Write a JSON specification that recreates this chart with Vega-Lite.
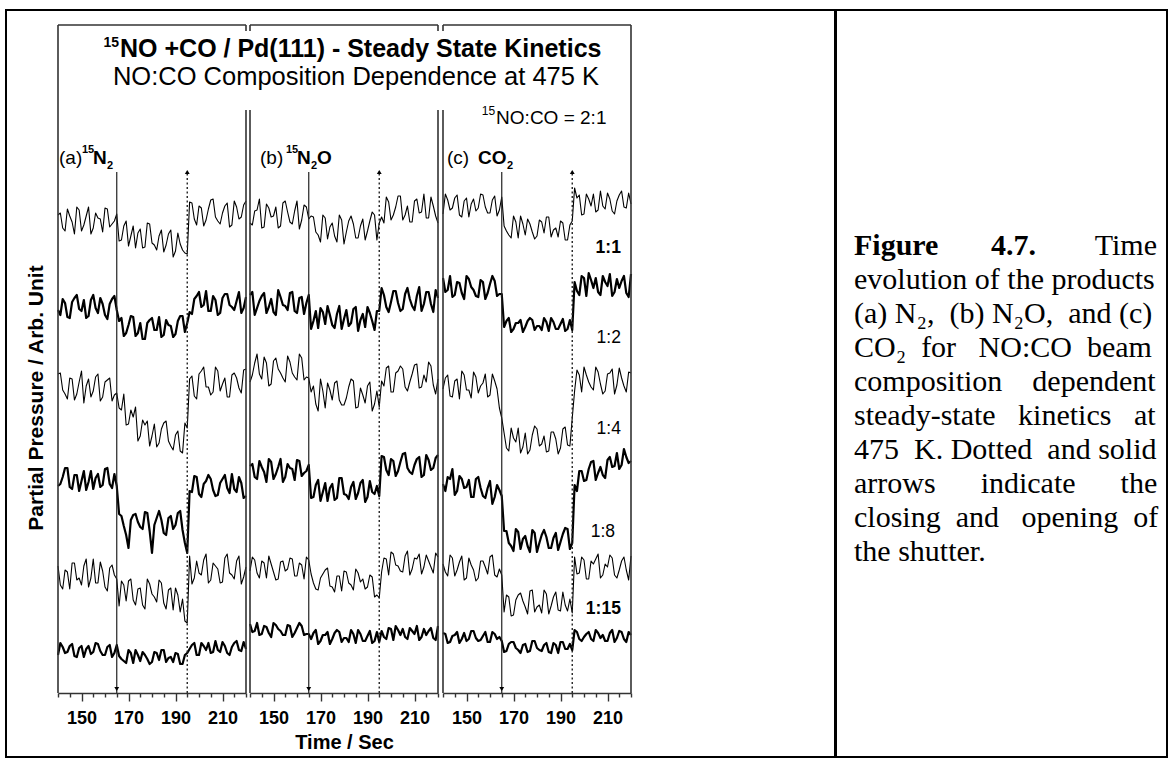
{
"$schema": "https://vega.github.io/schema/vega-lite/v6.json",
"background": "white",
"padding": {"left": 5, "top": 9, "right": 5, "bottom": 9},
"spacing": -2,
"config": {
  "view": {"stroke": "black", "strokeWidth": 2},
  "axis": {"grid": false, "labelFont": "Liberation Sans", "titleFont": "Liberation Sans", "minExtent": 0},
  "axisY": {"disable": true, "domain": false, "ticks": false, "labels": false, "grid": false, "titleOpacity": 0},
  "axisX": {"domainColor": "#333", "domainWidth": 1.6, "tickColor": "#333", "tickWidth": 1.4, "labelFontSize": 18, "labelFontWeight": "bold", "labelColor": "black", "labelPadding": 8, "labelOverlap": false, "labelBound": false, "labelFlush": false, "titleFontSize": 20, "titleFontWeight": "bold", "titleColor": "black", "titlePadding": 5},
  "rule": {"color": "#333", "strokeWidth": 1.6},
  "line": {"color": "black", "strokeJoin": "round"},
  "text": {"font": "Liberation Sans", "color": "black"},
  "point": {"filled": true, "color": "black", "opacity": 1}
},
"datasets": {
"one": [{}],
"shutter": [{"t":165,"event":"opening"},{"t":195,"event":"closing"}],
"a1":[{"t":140,"v":478},{"t":141,"v":480},{"t":142,"v":465},{"t":143,"v":462},{"t":144,"v":484},{"t":145,"v":477},{"t":146,"v":471},{"t":147,"v":459},{"t":148,"v":486},{"t":149,"v":483},{"t":150,"v":462},{"t":151,"v":468},{"t":152,"v":477},{"t":153,"v":486},{"t":154,"v":459},{"t":155,"v":465},{"t":156,"v":480},{"t":157,"v":475},{"t":158,"v":474},{"t":159,"v":461},{"t":160,"v":485},{"t":161,"v":484},{"t":162,"v":466},{"t":163,"v":469},{"t":164,"v":472},{"t":165,"v":479},{"t":166,"v":452},{"t":167,"v":453},{"t":168,"v":467},{"t":169,"v":472},{"t":170,"v":447},{"t":171,"v":457},{"t":172,"v":467},{"t":173,"v":445},{"t":174,"v":460},{"t":175,"v":464},{"t":176,"v":445},{"t":177,"v":446},{"t":178,"v":470},{"t":179,"v":469},{"t":180,"v":450},{"t":181,"v":448},{"t":182,"v":443},{"t":183,"v":457},{"t":184,"v":463},{"t":185,"v":441},{"t":186,"v":448},{"t":187,"v":459},{"t":188,"v":463},{"t":189,"v":436},{"t":190,"v":442},{"t":191,"v":460},{"t":192,"v":449},{"t":193,"v":443},{"t":194,"v":440},{"t":195,"v":439},{"t":196,"v":491},{"t":197,"v":490},{"t":198,"v":474},{"t":199,"v":468},{"t":200,"v":487},{"t":201,"v":485},{"t":202,"v":467},{"t":203,"v":473},{"t":204,"v":484},{"t":205,"v":493},{"t":206,"v":494},{"t":207,"v":476},{"t":208,"v":472},{"t":209,"v":469},{"t":210,"v":480},{"t":211,"v":487},{"t":212,"v":490},{"t":213,"v":466},{"t":214,"v":468},{"t":215,"v":492},{"t":216,"v":486},{"t":217,"v":474},{"t":218,"v":476},{"t":219,"v":488},{"t":220,"v":492}],
"a2":[{"t":140,"v":383},{"t":141,"v":378},{"t":142,"v":394},{"t":143,"v":390},{"t":144,"v":376},{"t":145,"v":375},{"t":146,"v":391},{"t":147,"v":395},{"t":148,"v":398},{"t":149,"v":384},{"t":150,"v":382},{"t":151,"v":393},{"t":152,"v":375},{"t":153,"v":377},{"t":154,"v":393},{"t":155,"v":398},{"t":156,"v":385},{"t":157,"v":380},{"t":158,"v":395},{"t":159,"v":389},{"t":160,"v":378},{"t":161,"v":374},{"t":162,"v":389},{"t":163,"v":394},{"t":164,"v":397},{"t":165,"v":383},{"t":166,"v":372},{"t":167,"v":375},{"t":168,"v":357},{"t":169,"v":360},{"t":170,"v":368},{"t":171,"v":377},{"t":172,"v":376},{"t":173,"v":357},{"t":174,"v":360},{"t":175,"v":370},{"t":176,"v":354},{"t":177,"v":354},{"t":178,"v":370},{"t":179,"v":373},{"t":180,"v":375},{"t":181,"v":363},{"t":182,"v":363},{"t":183,"v":376},{"t":184,"v":356},{"t":185,"v":358},{"t":186,"v":373},{"t":187,"v":368},{"t":188,"v":367},{"t":189,"v":356},{"t":190,"v":359},{"t":191,"v":372},{"t":192,"v":377},{"t":193,"v":377},{"t":194,"v":361},{"t":195,"v":370},{"t":196,"v":381},{"t":197,"v":379},{"t":198,"v":394},{"t":199,"v":397},{"t":200,"v":401},{"t":201,"v":386},{"t":202,"v":388},{"t":203,"v":402},{"t":204,"v":382},{"t":205,"v":382},{"t":206,"v":397},{"t":207,"v":393},{"t":208,"v":378},{"t":209,"v":380},{"t":210,"v":395},{"t":211,"v":399},{"t":212,"v":399},{"t":213,"v":388},{"t":214,"v":386},{"t":215,"v":383},{"t":216,"v":392},{"t":217,"v":401},{"t":218,"v":380},{"t":219,"v":385},{"t":220,"v":396}],
"a3":[{"t":140,"v":319},{"t":141,"v":320},{"t":142,"v":303},{"t":143,"v":299},{"t":144,"v":294},{"t":145,"v":315},{"t":146,"v":314},{"t":147,"v":293},{"t":148,"v":299},{"t":149,"v":311},{"t":150,"v":322},{"t":151,"v":290},{"t":152,"v":307},{"t":153,"v":314},{"t":154,"v":296},{"t":155,"v":302},{"t":156,"v":316},{"t":157,"v":319},{"t":158,"v":292},{"t":159,"v":296},{"t":160,"v":311},{"t":161,"v":313},{"t":162,"v":315},{"t":163,"v":292},{"t":164,"v":298},{"t":165,"v":300},{"t":166,"v":285},{"t":167,"v":283},{"t":168,"v":299},{"t":169,"v":268},{"t":170,"v":269},{"t":171,"v":283},{"t":172,"v":276},{"t":173,"v":286},{"t":174,"v":252},{"t":175,"v":257},{"t":176,"v":273},{"t":177,"v":268},{"t":178,"v":272},{"t":179,"v":247},{"t":180,"v":257},{"t":181,"v":269},{"t":182,"v":246},{"t":183,"v":250},{"t":184,"v":264},{"t":185,"v":270},{"t":186,"v":272},{"t":187,"v":252},{"t":188,"v":247},{"t":189,"v":243},{"t":190,"v":258},{"t":191,"v":262},{"t":192,"v":242},{"t":193,"v":240},{"t":194,"v":270},{"t":195,"v":265},{"t":196,"v":314},{"t":197,"v":317},{"t":198,"v":297},{"t":199,"v":294},{"t":200,"v":319},{"t":201,"v":322},{"t":202,"v":326},{"t":203,"v":306},{"t":204,"v":306},{"t":205,"v":298},{"t":206,"v":301},{"t":207,"v":326},{"t":208,"v":322},{"t":209,"v":302},{"t":210,"v":309},{"t":211,"v":315},{"t":212,"v":296},{"t":213,"v":296},{"t":214,"v":318},{"t":215,"v":320},{"t":216,"v":315},{"t":217,"v":305},{"t":218,"v":300},{"t":219,"v":323},{"t":220,"v":324}],
"a4":[{"t":140,"v":207},{"t":141,"v":209},{"t":142,"v":216},{"t":143,"v":225},{"t":144,"v":225},{"t":145,"v":206},{"t":146,"v":204},{"t":147,"v":218},{"t":148,"v":218},{"t":149,"v":202},{"t":150,"v":212},{"t":151,"v":222},{"t":152,"v":203},{"t":153,"v":211},{"t":154,"v":222},{"t":155,"v":204},{"t":156,"v":215},{"t":157,"v":219},{"t":158,"v":206},{"t":159,"v":208},{"t":160,"v":224},{"t":161,"v":225},{"t":162,"v":209},{"t":163,"v":205},{"t":164,"v":219},{"t":165,"v":207},{"t":166,"v":179},{"t":167,"v":177},{"t":168,"v":167},{"t":169,"v":158},{"t":170,"v":145},{"t":171,"v":173},{"t":172,"v":178},{"t":173,"v":179},{"t":174,"v":171},{"t":175,"v":166},{"t":176,"v":164},{"t":177,"v":181},{"t":178,"v":180},{"t":179,"v":162},{"t":180,"v":140},{"t":181,"v":168},{"t":182,"v":175},{"t":183,"v":182},{"t":184,"v":173},{"t":185,"v":160},{"t":186,"v":158},{"t":187,"v":175},{"t":188,"v":177},{"t":189,"v":164},{"t":190,"v":168},{"t":191,"v":180},{"t":192,"v":182},{"t":193,"v":163},{"t":194,"v":150},{"t":195,"v":140},{"t":196,"v":202},{"t":197,"v":201},{"t":198,"v":217},{"t":199,"v":216},{"t":200,"v":199},{"t":201,"v":196},{"t":202,"v":209},{"t":203,"v":212},{"t":204,"v":218},{"t":205,"v":214},{"t":206,"v":203},{"t":207,"v":197},{"t":208,"v":198},{"t":209,"v":210},{"t":210,"v":214},{"t":211,"v":218},{"t":212,"v":205},{"t":213,"v":200},{"t":214,"v":219},{"t":215,"v":204},{"t":216,"v":201},{"t":217,"v":216},{"t":218,"v":210},{"t":219,"v":195},{"t":220,"v":197}],
"a5":[{"t":140,"v":127},{"t":141,"v":108},{"t":142,"v":104},{"t":143,"v":123},{"t":144,"v":121},{"t":145,"v":104},{"t":146,"v":130},{"t":147,"v":130},{"t":148,"v":113},{"t":149,"v":115},{"t":150,"v":108},{"t":151,"v":127},{"t":152,"v":134},{"t":153,"v":106},{"t":154,"v":115},{"t":155,"v":134},{"t":156,"v":110},{"t":157,"v":110},{"t":158,"v":131},{"t":159,"v":122},{"t":160,"v":106},{"t":161,"v":102},{"t":162,"v":125},{"t":163,"v":128},{"t":164,"v":118},{"t":165,"v":114},{"t":166,"v":87},{"t":167,"v":112},{"t":168,"v":108},{"t":169,"v":92},{"t":170,"v":112},{"t":171,"v":114},{"t":172,"v":93},{"t":173,"v":88},{"t":174,"v":104},{"t":175,"v":105},{"t":176,"v":88},{"t":177,"v":84},{"t":178,"v":114},{"t":179,"v":109},{"t":180,"v":99},{"t":181,"v":96},{"t":182,"v":91},{"t":183,"v":113},{"t":184,"v":110},{"t":185,"v":90},{"t":186,"v":84},{"t":187,"v":103},{"t":188,"v":105},{"t":189,"v":83},{"t":190,"v":105},{"t":191,"v":98},{"t":192,"v":81},{"t":193,"v":94},{"t":194,"v":72},{"t":195,"v":70},{"t":196,"v":137},{"t":197,"v":109},{"t":198,"v":115},{"t":199,"v":132},{"t":200,"v":120},{"t":201,"v":118},{"t":202,"v":133},{"t":203,"v":139},{"t":204,"v":110},{"t":205,"v":113},{"t":206,"v":130},{"t":207,"v":127},{"t":208,"v":124},{"t":209,"v":110},{"t":210,"v":111},{"t":211,"v":135},{"t":212,"v":139},{"t":213,"v":120},{"t":214,"v":118},{"t":215,"v":114},{"t":216,"v":132},{"t":217,"v":137},{"t":218,"v":109},{"t":219,"v":116},{"t":220,"v":126}],
"a6":[{"t":140,"v":38},{"t":141,"v":50},{"t":142,"v":46},{"t":143,"v":40},{"t":144,"v":41},{"t":145,"v":47},{"t":146,"v":49},{"t":147,"v":37},{"t":148,"v":36},{"t":149,"v":45},{"t":150,"v":47},{"t":151,"v":36},{"t":152,"v":44},{"t":153,"v":47},{"t":154,"v":39},{"t":155,"v":41},{"t":156,"v":50},{"t":157,"v":49},{"t":158,"v":42},{"t":159,"v":38},{"t":160,"v":38},{"t":161,"v":46},{"t":162,"v":48},{"t":163,"v":36},{"t":164,"v":40},{"t":165,"v":48},{"t":166,"v":37},{"t":167,"v":34},{"t":168,"v":32},{"t":169,"v":30},{"t":170,"v":43},{"t":171,"v":40},{"t":172,"v":30},{"t":173,"v":43},{"t":174,"v":38},{"t":175,"v":32},{"t":176,"v":41},{"t":177,"v":38},{"t":178,"v":34},{"t":179,"v":29},{"t":180,"v":31},{"t":181,"v":41},{"t":182,"v":40},{"t":183,"v":33},{"t":184,"v":43},{"t":185,"v":43},{"t":186,"v":31},{"t":187,"v":35},{"t":188,"v":36},{"t":189,"v":31},{"t":190,"v":40},{"t":191,"v":39},{"t":192,"v":29},{"t":193,"v":29},{"t":194,"v":38},{"t":195,"v":40},{"t":196,"v":44},{"t":197,"v":48},{"t":198,"v":50},{"t":199,"v":38},{"t":200,"v":38},{"t":201,"v":50},{"t":202,"v":47},{"t":203,"v":43},{"t":204,"v":50},{"t":205,"v":40},{"t":206,"v":41},{"t":207,"v":52},{"t":208,"v":43},{"t":209,"v":41},{"t":210,"v":51},{"t":211,"v":47},{"t":212,"v":40},{"t":213,"v":38},{"t":214,"v":46},{"t":215,"v":50},{"t":216,"v":52},{"t":217,"v":43},{"t":218,"v":42},{"t":219,"v":51},{"t":220,"v":44}],
"b1":[{"t":140,"v":470},{"t":141,"v":468},{"t":142,"v":482},{"t":143,"v":483},{"t":144,"v":494},{"t":145,"v":465},{"t":146,"v":466},{"t":147,"v":489},{"t":148,"v":485},{"t":149,"v":476},{"t":150,"v":477},{"t":151,"v":486},{"t":152,"v":465},{"t":153,"v":467},{"t":154,"v":490},{"t":155,"v":492},{"t":156,"v":481},{"t":157,"v":471},{"t":158,"v":469},{"t":159,"v":482},{"t":160,"v":492},{"t":161,"v":464},{"t":162,"v":473},{"t":163,"v":488},{"t":164,"v":486},{"t":165,"v":474},{"t":166,"v":477},{"t":167,"v":476},{"t":168,"v":461},{"t":169,"v":458},{"t":170,"v":451},{"t":171,"v":478},{"t":172,"v":475},{"t":173,"v":454},{"t":174,"v":466},{"t":175,"v":470},{"t":176,"v":457},{"t":177,"v":451},{"t":178,"v":478},{"t":179,"v":473},{"t":180,"v":449},{"t":181,"v":461},{"t":182,"v":472},{"t":183,"v":477},{"t":184,"v":469},{"t":185,"v":455},{"t":186,"v":455},{"t":187,"v":467},{"t":188,"v":474},{"t":189,"v":453},{"t":190,"v":462},{"t":191,"v":472},{"t":192,"v":481},{"t":193,"v":478},{"t":194,"v":453},{"t":195,"v":470},{"t":196,"v":476},{"t":197,"v":470},{"t":198,"v":496},{"t":199,"v":491},{"t":200,"v":473},{"t":201,"v":478},{"t":202,"v":486},{"t":203,"v":497},{"t":204,"v":497},{"t":205,"v":473},{"t":206,"v":478},{"t":207,"v":487},{"t":208,"v":471},{"t":209,"v":471},{"t":210,"v":492},{"t":211,"v":494},{"t":212,"v":480},{"t":213,"v":481},{"t":214,"v":499},{"t":215,"v":475},{"t":216,"v":475},{"t":217,"v":496},{"t":218,"v":487},{"t":219,"v":477},{"t":220,"v":470}],
"b2":[{"t":140,"v":398},{"t":141,"v":401},{"t":142,"v":378},{"t":143,"v":385},{"t":144,"v":392},{"t":145,"v":397},{"t":146,"v":400},{"t":147,"v":380},{"t":148,"v":386},{"t":149,"v":394},{"t":150,"v":381},{"t":151,"v":378},{"t":152,"v":403},{"t":153,"v":396},{"t":154,"v":388},{"t":155,"v":387},{"t":156,"v":383},{"t":157,"v":400},{"t":158,"v":401},{"t":159,"v":382},{"t":160,"v":380},{"t":161,"v":395},{"t":162,"v":396},{"t":163,"v":379},{"t":164,"v":390},{"t":165,"v":398},{"t":166,"v":364},{"t":167,"v":372},{"t":168,"v":382},{"t":169,"v":365},{"t":170,"v":385},{"t":171,"v":381},{"t":172,"v":369},{"t":173,"v":387},{"t":174,"v":378},{"t":175,"v":368},{"t":176,"v":365},{"t":177,"v":379},{"t":178,"v":387},{"t":179,"v":364},{"t":180,"v":374},{"t":181,"v":383},{"t":182,"v":367},{"t":183,"v":370},{"t":184,"v":384},{"t":185,"v":386},{"t":186,"v":362},{"t":187,"v":373},{"t":188,"v":379},{"t":189,"v":366},{"t":190,"v":386},{"t":191,"v":380},{"t":192,"v":372},{"t":193,"v":363},{"t":194,"v":382},{"t":195,"v":382},{"t":196,"v":405},{"t":197,"v":398},{"t":198,"v":386},{"t":199,"v":381},{"t":200,"v":391},{"t":201,"v":402},{"t":202,"v":402},{"t":203,"v":390},{"t":204,"v":382},{"t":205,"v":384},{"t":206,"v":399},{"t":207,"v":405},{"t":208,"v":394},{"t":209,"v":387},{"t":210,"v":383},{"t":211,"v":397},{"t":212,"v":406},{"t":213,"v":382},{"t":214,"v":389},{"t":215,"v":401},{"t":216,"v":401},{"t":217,"v":389},{"t":218,"v":381},{"t":219,"v":403},{"t":220,"v":395}],
"b3":[{"t":140,"v":311},{"t":141,"v":318},{"t":142,"v":330},{"t":143,"v":339},{"t":144,"v":319},{"t":145,"v":314},{"t":146,"v":336},{"t":147,"v":330},{"t":148,"v":307},{"t":149,"v":309},{"t":150,"v":332},{"t":151,"v":335},{"t":152,"v":324},{"t":153,"v":320},{"t":154,"v":315},{"t":155,"v":311},{"t":156,"v":337},{"t":157,"v":331},{"t":158,"v":320},{"t":159,"v":316},{"t":160,"v":313},{"t":161,"v":339},{"t":162,"v":335},{"t":163,"v":313},{"t":164,"v":316},{"t":165,"v":315},{"t":166,"v":301},{"t":167,"v":307},{"t":168,"v":289},{"t":169,"v":282},{"t":170,"v":314},{"t":171,"v":302},{"t":172,"v":285},{"t":173,"v":310},{"t":174,"v":303},{"t":175,"v":293},{"t":176,"v":310},{"t":177,"v":312},{"t":178,"v":293},{"t":179,"v":288},{"t":180,"v":288},{"t":181,"v":295},{"t":182,"v":306},{"t":183,"v":314},{"t":184,"v":312},{"t":185,"v":285},{"t":186,"v":286},{"t":187,"v":305},{"t":188,"v":298},{"t":189,"v":290},{"t":190,"v":307},{"t":191,"v":311},{"t":192,"v":282},{"t":193,"v":289},{"t":194,"v":302},{"t":195,"v":286},{"t":196,"v":312},{"t":197,"v":307},{"t":198,"v":325},{"t":199,"v":327},{"t":200,"v":301},{"t":201,"v":301},{"t":202,"v":320},{"t":203,"v":322},{"t":204,"v":327},{"t":205,"v":324},{"t":206,"v":306},{"t":207,"v":302},{"t":208,"v":311},{"t":209,"v":319},{"t":210,"v":328},{"t":211,"v":329},{"t":212,"v":305},{"t":213,"v":306},{"t":214,"v":318},{"t":215,"v":311},{"t":216,"v":331},{"t":217,"v":327},{"t":218,"v":308},{"t":219,"v":299},{"t":220,"v":314}],
"b4":[{"t":140,"v":227},{"t":141,"v":229},{"t":142,"v":216},{"t":143,"v":214},{"t":144,"v":232},{"t":145,"v":226},{"t":146,"v":221},{"t":147,"v":211},{"t":148,"v":234},{"t":149,"v":231},{"t":150,"v":214},{"t":151,"v":219},{"t":152,"v":226},{"t":153,"v":234},{"t":154,"v":211},{"t":155,"v":216},{"t":156,"v":229},{"t":157,"v":225},{"t":158,"v":224},{"t":159,"v":213},{"t":160,"v":233},{"t":161,"v":232},{"t":162,"v":217},{"t":163,"v":220},{"t":164,"v":222},{"t":165,"v":228},{"t":166,"v":195},{"t":167,"v":196},{"t":168,"v":208},{"t":169,"v":213},{"t":170,"v":192},{"t":171,"v":201},{"t":172,"v":210},{"t":173,"v":192},{"t":174,"v":205},{"t":175,"v":209},{"t":176,"v":193},{"t":177,"v":195},{"t":178,"v":215},{"t":179,"v":215},{"t":180,"v":199},{"t":181,"v":198},{"t":182,"v":194},{"t":183,"v":206},{"t":184,"v":211},{"t":185,"v":194},{"t":186,"v":200},{"t":187,"v":210},{"t":188,"v":213},{"t":189,"v":191},{"t":190,"v":196},{"t":191,"v":212},{"t":192,"v":201},{"t":193,"v":199},{"t":194,"v":207},{"t":195,"v":197},{"t":196,"v":237},{"t":197,"v":236},{"t":198,"v":223},{"t":199,"v":218},{"t":200,"v":234},{"t":201,"v":232},{"t":202,"v":217},{"t":203,"v":222},{"t":204,"v":231},{"t":205,"v":239},{"t":206,"v":240},{"t":207,"v":225},{"t":208,"v":221},{"t":209,"v":219},{"t":210,"v":228},{"t":211,"v":234},{"t":212,"v":236},{"t":213,"v":216},{"t":214,"v":218},{"t":215,"v":238},{"t":216,"v":233},{"t":217,"v":223},{"t":218,"v":225},{"t":219,"v":235},{"t":220,"v":238}],
"b5":[{"t":140,"v":122},{"t":141,"v":136},{"t":142,"v":133},{"t":143,"v":120},{"t":144,"v":115},{"t":145,"v":132},{"t":146,"v":130},{"t":147,"v":115},{"t":148,"v":137},{"t":149,"v":129},{"t":150,"v":121},{"t":151,"v":113},{"t":152,"v":114},{"t":153,"v":131},{"t":154,"v":132},{"t":155,"v":122},{"t":156,"v":124},{"t":157,"v":135},{"t":158,"v":134},{"t":159,"v":117},{"t":160,"v":117},{"t":161,"v":130},{"t":162,"v":128},{"t":163,"v":114},{"t":164,"v":136},{"t":165,"v":133},{"t":166,"v":119},{"t":167,"v":110},{"t":168,"v":104},{"t":169,"v":103},{"t":170,"v":115},{"t":171,"v":119},{"t":172,"v":123},{"t":173,"v":125},{"t":174,"v":107},{"t":175,"v":106},{"t":176,"v":101},{"t":177,"v":117},{"t":178,"v":117},{"t":179,"v":102},{"t":180,"v":122},{"t":181,"v":121},{"t":182,"v":110},{"t":183,"v":108},{"t":184,"v":103},{"t":185,"v":124},{"t":186,"v":120},{"t":187,"v":111},{"t":188,"v":114},{"t":189,"v":104},{"t":190,"v":106},{"t":191,"v":118},{"t":192,"v":116},{"t":193,"v":96},{"t":194,"v":98},{"t":195,"v":95},{"t":196,"v":121},{"t":197,"v":135},{"t":198,"v":134},{"t":199,"v":118},{"t":200,"v":141},{"t":201,"v":139},{"t":202,"v":128},{"t":203,"v":127},{"t":204,"v":122},{"t":205,"v":121},{"t":206,"v":137},{"t":207,"v":142},{"t":208,"v":118},{"t":209,"v":124},{"t":210,"v":135},{"t":211,"v":134},{"t":212,"v":139},{"t":213,"v":119},{"t":214,"v":126},{"t":215,"v":138},{"t":216,"v":132},{"t":217,"v":126},{"t":218,"v":120},{"t":219,"v":140},{"t":220,"v":136}],
"b6":[{"t":140,"v":69},{"t":141,"v":61},{"t":142,"v":62},{"t":143,"v":70},{"t":144,"v":58},{"t":145,"v":59},{"t":146,"v":67},{"t":147,"v":66},{"t":148,"v":60},{"t":149,"v":56},{"t":150,"v":70},{"t":151,"v":68},{"t":152,"v":64},{"t":153,"v":62},{"t":154,"v":58},{"t":155,"v":58},{"t":156,"v":68},{"t":157,"v":67},{"t":158,"v":56},{"t":159,"v":60},{"t":160,"v":65},{"t":161,"v":70},{"t":162,"v":67},{"t":163,"v":58},{"t":164,"v":59},{"t":165,"v":59},{"t":166,"v":54},{"t":167,"v":60},{"t":168,"v":63},{"t":169,"v":49},{"t":170,"v":52},{"t":171,"v":58},{"t":172,"v":58},{"t":173,"v":61},{"t":174,"v":49},{"t":175,"v":54},{"t":176,"v":60},{"t":177,"v":63},{"t":178,"v":61},{"t":179,"v":51},{"t":180,"v":55},{"t":181,"v":55},{"t":182,"v":51},{"t":183,"v":63},{"t":184,"v":59},{"t":185,"v":50},{"t":186,"v":63},{"t":187,"v":59},{"t":188,"v":52},{"t":189,"v":52},{"t":190,"v":57},{"t":191,"v":62},{"t":192,"v":50},{"t":193,"v":52},{"t":194,"v":61},{"t":195,"v":51},{"t":196,"v":62},{"t":197,"v":56},{"t":198,"v":54},{"t":199,"v":65},{"t":200,"v":64},{"t":201,"v":53},{"t":202,"v":67},{"t":203,"v":63},{"t":204,"v":58},{"t":205,"v":64},{"t":206,"v":56},{"t":207,"v":54},{"t":208,"v":65},{"t":209,"v":62},{"t":210,"v":59},{"t":211,"v":67},{"t":212,"v":53},{"t":213,"v":56},{"t":214,"v":64},{"t":215,"v":58},{"t":216,"v":62},{"t":217,"v":65},{"t":218,"v":55},{"t":219,"v":53},{"t":220,"v":67}],
"c1":[{"t":140,"v":479},{"t":141,"v":499},{"t":142,"v":493},{"t":143,"v":483},{"t":144,"v":485},{"t":145,"v":495},{"t":146,"v":498},{"t":147,"v":478},{"t":148,"v":476},{"t":149,"v":492},{"t":150,"v":495},{"t":151,"v":476},{"t":152,"v":489},{"t":153,"v":494},{"t":154,"v":482},{"t":155,"v":485},{"t":156,"v":499},{"t":157,"v":498},{"t":158,"v":486},{"t":159,"v":480},{"t":160,"v":480},{"t":161,"v":493},{"t":162,"v":497},{"t":163,"v":477},{"t":164,"v":483},{"t":165,"v":496},{"t":166,"v":467},{"t":167,"v":462},{"t":168,"v":458},{"t":169,"v":455},{"t":170,"v":477},{"t":171,"v":471},{"t":172,"v":455},{"t":173,"v":477},{"t":174,"v":469},{"t":175,"v":458},{"t":176,"v":474},{"t":177,"v":469},{"t":178,"v":461},{"t":179,"v":454},{"t":180,"v":457},{"t":181,"v":473},{"t":182,"v":471},{"t":183,"v":460},{"t":184,"v":476},{"t":185,"v":476},{"t":186,"v":456},{"t":187,"v":463},{"t":188,"v":465},{"t":189,"v":456},{"t":190,"v":472},{"t":191,"v":470},{"t":192,"v":453},{"t":193,"v":453},{"t":194,"v":468},{"t":195,"v":472},{"t":196,"v":505},{"t":197,"v":495},{"t":198,"v":498},{"t":199,"v":478},{"t":200,"v":479},{"t":201,"v":499},{"t":202,"v":494},{"t":203,"v":487},{"t":204,"v":499},{"t":205,"v":481},{"t":206,"v":483},{"t":207,"v":502},{"t":208,"v":487},{"t":209,"v":484},{"t":210,"v":500},{"t":211,"v":494},{"t":212,"v":482},{"t":213,"v":479},{"t":214,"v":492},{"t":215,"v":498},{"t":216,"v":502},{"t":217,"v":486},{"t":218,"v":485},{"t":219,"v":500},{"t":220,"v":489}],
"c2":[{"t":140,"v":415},{"t":141,"v":401},{"t":142,"v":403},{"t":143,"v":417},{"t":144,"v":396},{"t":145,"v":398},{"t":146,"v":411},{"t":147,"v":410},{"t":148,"v":400},{"t":149,"v":394},{"t":150,"v":417},{"t":151,"v":414},{"t":152,"v":406},{"t":153,"v":403},{"t":154,"v":397},{"t":155,"v":396},{"t":156,"v":413},{"t":157,"v":411},{"t":158,"v":394},{"t":159,"v":400},{"t":160,"v":409},{"t":161,"v":417},{"t":162,"v":412},{"t":163,"v":397},{"t":164,"v":399},{"t":165,"v":399},{"t":166,"v":366},{"t":167,"v":372},{"t":168,"v":375},{"t":169,"v":361},{"t":170,"v":364},{"t":171,"v":370},{"t":172,"v":370},{"t":173,"v":373},{"t":174,"v":361},{"t":175,"v":366},{"t":176,"v":372},{"t":177,"v":375},{"t":178,"v":373},{"t":179,"v":363},{"t":180,"v":367},{"t":181,"v":367},{"t":182,"v":363},{"t":183,"v":375},{"t":184,"v":371},{"t":185,"v":362},{"t":186,"v":375},{"t":187,"v":371},{"t":188,"v":364},{"t":189,"v":364},{"t":190,"v":369},{"t":191,"v":374},{"t":192,"v":362},{"t":193,"v":364},{"t":194,"v":373},{"t":195,"v":363},{"t":196,"v":411},{"t":197,"v":402},{"t":198,"v":398},{"t":199,"v":417},{"t":200,"v":415},{"t":201,"v":397},{"t":202,"v":420},{"t":203,"v":413},{"t":204,"v":405},{"t":205,"v":415},{"t":206,"v":401},{"t":207,"v":398},{"t":208,"v":417},{"t":209,"v":411},{"t":210,"v":407},{"t":211,"v":419},{"t":212,"v":397},{"t":213,"v":401},{"t":214,"v":414},{"t":215,"v":405},{"t":216,"v":412},{"t":217,"v":417},{"t":218,"v":400},{"t":219,"v":396},{"t":220,"v":419}],
"c3":[{"t":140,"v":304},{"t":141,"v":315},{"t":142,"v":318},{"t":143,"v":297},{"t":144,"v":296},{"t":145,"v":312},{"t":146,"v":314},{"t":147,"v":294},{"t":148,"v":322},{"t":149,"v":318},{"t":150,"v":303},{"t":151,"v":303},{"t":152,"v":295},{"t":153,"v":321},{"t":154,"v":316},{"t":155,"v":300},{"t":156,"v":307},{"t":157,"v":310},{"t":158,"v":319},{"t":159,"v":296},{"t":160,"v":298},{"t":161,"v":319},{"t":162,"v":312},{"t":163,"v":304},{"t":164,"v":285},{"t":165,"v":275},{"t":166,"v":260},{"t":167,"v":245},{"t":168,"v":242},{"t":169,"v":265},{"t":170,"v":255},{"t":171,"v":251},{"t":172,"v":265},{"t":173,"v":240},{"t":174,"v":246},{"t":175,"v":260},{"t":176,"v":239},{"t":177,"v":243},{"t":178,"v":258},{"t":179,"v":267},{"t":180,"v":264},{"t":181,"v":247},{"t":182,"v":249},{"t":183,"v":257},{"t":184,"v":241},{"t":185,"v":242},{"t":186,"v":261},{"t":187,"v":261},{"t":188,"v":254},{"t":189,"v":239},{"t":190,"v":245},{"t":191,"v":264},{"t":192,"v":266},{"t":193,"v":248},{"t":194,"v":247},{"t":195,"v":275},{"t":196,"v":302},{"t":197,"v":323},{"t":198,"v":318},{"t":199,"v":301},{"t":200,"v":326},{"t":201,"v":318},{"t":202,"v":311},{"t":203,"v":306},{"t":204,"v":303},{"t":205,"v":326},{"t":206,"v":321},{"t":207,"v":309},{"t":208,"v":299},{"t":209,"v":302},{"t":210,"v":319},{"t":211,"v":320},{"t":212,"v":324},{"t":213,"v":299},{"t":214,"v":308},{"t":215,"v":325},{"t":216,"v":315},{"t":217,"v":307},{"t":218,"v":301},{"t":219,"v":321},{"t":220,"v":320}],
"c4":[{"t":140,"v":209},{"t":141,"v":202},{"t":142,"v":216},{"t":143,"v":214},{"t":144,"v":224},{"t":145,"v":198},{"t":146,"v":202},{"t":147,"v":217},{"t":148,"v":214},{"t":149,"v":205},{"t":150,"v":206},{"t":151,"v":213},{"t":152,"v":196},{"t":153,"v":196},{"t":154,"v":214},{"t":155,"v":216},{"t":156,"v":205},{"t":157,"v":197},{"t":158,"v":195},{"t":159,"v":205},{"t":160,"v":212},{"t":161,"v":189},{"t":162,"v":196},{"t":163,"v":208},{"t":164,"v":203},{"t":165,"v":197},{"t":166,"v":162},{"t":167,"v":162},{"t":168,"v":150},{"t":169,"v":147},{"t":170,"v":142},{"t":171,"v":164},{"t":172,"v":161},{"t":173,"v":144},{"t":174,"v":154},{"t":175,"v":157},{"t":176,"v":147},{"t":177,"v":141},{"t":178,"v":163},{"t":179,"v":160},{"t":180,"v":141},{"t":181,"v":150},{"t":182,"v":158},{"t":183,"v":163},{"t":184,"v":156},{"t":185,"v":145},{"t":186,"v":145},{"t":187,"v":155},{"t":188,"v":160},{"t":189,"v":143},{"t":190,"v":151},{"t":191,"v":159},{"t":192,"v":165},{"t":193,"v":164},{"t":194,"v":144},{"t":195,"v":150},{"t":196,"v":208},{"t":197,"v":202},{"t":198,"v":222},{"t":199,"v":222},{"t":200,"v":212},{"t":201,"v":213},{"t":202,"v":224},{"t":203,"v":231},{"t":204,"v":232},{"t":205,"v":213},{"t":206,"v":220},{"t":207,"v":226},{"t":208,"v":218},{"t":209,"v":215},{"t":210,"v":233},{"t":211,"v":236},{"t":212,"v":226},{"t":213,"v":227},{"t":214,"v":240},{"t":215,"v":224},{"t":216,"v":228},{"t":217,"v":244},{"t":218,"v":236},{"t":219,"v":230},{"t":220,"v":232}],
"c5":[{"t":140,"v":129},{"t":141,"v":121},{"t":142,"v":117},{"t":143,"v":138},{"t":144,"v":135},{"t":145,"v":117},{"t":146,"v":123},{"t":147,"v":131},{"t":148,"v":137},{"t":149,"v":113},{"t":150,"v":115},{"t":151,"v":135},{"t":152,"v":128},{"t":153,"v":123},{"t":154,"v":112},{"t":155,"v":115},{"t":156,"v":132},{"t":157,"v":132},{"t":158,"v":126},{"t":159,"v":119},{"t":160,"v":136},{"t":161,"v":138},{"t":162,"v":118},{"t":163,"v":116},{"t":164,"v":124},{"t":165,"v":118},{"t":166,"v":81},{"t":167,"v":98},{"t":168,"v":96},{"t":169,"v":77},{"t":170,"v":78},{"t":171,"v":93},{"t":172,"v":98},{"t":173,"v":100},{"t":174,"v":92},{"t":175,"v":86},{"t":176,"v":79},{"t":177,"v":102},{"t":178,"v":103},{"t":179,"v":81},{"t":180,"v":86},{"t":181,"v":88},{"t":182,"v":80},{"t":183,"v":103},{"t":184,"v":99},{"t":185,"v":79},{"t":186,"v":87},{"t":187,"v":96},{"t":188,"v":101},{"t":189,"v":83},{"t":190,"v":82},{"t":191,"v":101},{"t":192,"v":88},{"t":193,"v":82},{"t":194,"v":94},{"t":195,"v":80},{"t":196,"v":136},{"t":197,"v":119},{"t":198,"v":120},{"t":199,"v":136},{"t":200,"v":133},{"t":201,"v":114},{"t":202,"v":114},{"t":203,"v":132},{"t":204,"v":129},{"t":205,"v":134},{"t":206,"v":139},{"t":207,"v":115},{"t":208,"v":118},{"t":209,"v":129},{"t":210,"v":126},{"t":211,"v":138},{"t":212,"v":135},{"t":213,"v":118},{"t":214,"v":115},{"t":215,"v":123},{"t":216,"v":132},{"t":217,"v":136},{"t":218,"v":123},{"t":219,"v":113},{"t":220,"v":137}],
"c6":[{"t":140,"v":60},{"t":141,"v":59},{"t":142,"v":50},{"t":143,"v":51},{"t":144,"v":57},{"t":145,"v":58},{"t":146,"v":61},{"t":147,"v":50},{"t":148,"v":54},{"t":149,"v":60},{"t":150,"v":52},{"t":151,"v":54},{"t":152,"v":62},{"t":153,"v":62},{"t":154,"v":55},{"t":155,"v":52},{"t":156,"v":53},{"t":157,"v":57},{"t":158,"v":61},{"t":159,"v":51},{"t":160,"v":51},{"t":161,"v":61},{"t":162,"v":59},{"t":163,"v":54},{"t":164,"v":56},{"t":165,"v":52},{"t":166,"v":41},{"t":167,"v":42},{"t":168,"v":49},{"t":169,"v":51},{"t":170,"v":51},{"t":171,"v":45},{"t":172,"v":43},{"t":173,"v":40},{"t":174,"v":48},{"t":175,"v":49},{"t":176,"v":41},{"t":177,"v":42},{"t":178,"v":52},{"t":179,"v":52},{"t":180,"v":45},{"t":181,"v":43},{"t":182,"v":42},{"t":183,"v":48},{"t":184,"v":50},{"t":185,"v":41},{"t":186,"v":40},{"t":187,"v":50},{"t":188,"v":48},{"t":189,"v":40},{"t":190,"v":51},{"t":191,"v":51},{"t":192,"v":44},{"t":193,"v":44},{"t":194,"v":49},{"t":195,"v":43},{"t":196,"v":63},{"t":197,"v":61},{"t":198,"v":54},{"t":199,"v":52},{"t":200,"v":56},{"t":201,"v":59},{"t":202,"v":61},{"t":203,"v":54},{"t":204,"v":52},{"t":205,"v":63},{"t":206,"v":60},{"t":207,"v":55},{"t":208,"v":58},{"t":209,"v":52},{"t":210,"v":52},{"t":211,"v":60},{"t":212,"v":63},{"t":213,"v":51},{"t":214,"v":55},{"t":215,"v":62},{"t":216,"v":61},{"t":217,"v":54},{"t":218,"v":51},{"t":219,"v":61},{"t":220,"v":58}]
},
"hconcat": [
{
  "width": 829, "height": 747,
  "resolve": {"scale": {"x": "independent"}, "axis": {"x": "independent"}},
  "layer": [
  {
    "layer": [
      {"data": {"name": "a1"}, "mark": {"type": "line", "strokeWidth": 1.1}, "encoding": {
        "x": {"field": "t", "type": "quantitative", "scale": {"domain": [140, 220], "range": [52, 240], "nice": false, "zero": false},
              "axis": {"orient": "bottom", "offset": -64, "values": [140,145,150,155,160,165,170,175,180,185,190,195,200,205,210,215,220], "labelExpr": "datum.value % 20 == 10 ? datum.label : ''", "tickSize": {"condition": {"test": "datum.value % 20 == 10", "value": 8}, "value": 4}, "title": null}},
        "y": {"field": "v", "type": "quantitative", "scale": {"domain": [0, 668], "range": [683, 15], "nice": false, "zero": false}, "axis": null}}},
      {"data": {"name": "a2"}, "mark": {"type": "line", "strokeWidth": 2.2}, "encoding": {"x": {"field": "t", "type": "quantitative"}, "y": {"field": "v", "type": "quantitative", "axis": null}}},
      {"data": {"name": "a3"}, "mark": {"type": "line", "strokeWidth": 1.1}, "encoding": {"x": {"field": "t", "type": "quantitative"}, "y": {"field": "v", "type": "quantitative", "axis": null}}},
      {"data": {"name": "a4"}, "mark": {"type": "line", "strokeWidth": 2.2}, "encoding": {"x": {"field": "t", "type": "quantitative"}, "y": {"field": "v", "type": "quantitative", "axis": null}}},
      {"data": {"name": "a5"}, "mark": {"type": "line", "strokeWidth": 1.1}, "encoding": {"x": {"field": "t", "type": "quantitative"}, "y": {"field": "v", "type": "quantitative", "axis": null}}},
      {"data": {"name": "a6"}, "mark": {"type": "line", "strokeWidth": 2.2}, "encoding": {"x": {"field": "t", "type": "quantitative"}, "y": {"field": "v", "type": "quantitative", "axis": null}}},
      {"data": {"name": "one"}, "mark": "rule", "encoding": {"x": {"datum": 140}, "y": {"datum": 0}, "y2": {"datum": 668}}},
      {"data": {"name": "one"}, "mark": "rule", "encoding": {"x": {"datum": 220}, "y": {"datum": 0}, "y2": {"datum": 583}}},
      {"data": {"name": "one"}, "mark": "rule", "encoding": {"x": {"datum": 220}, "y": {"datum": 662}, "y2": {"datum": 668}}},
      {"data": {"name": "one"}, "mark": "rule", "encoding": {"x": {"datum": 140}, "x2": {"datum": 220}, "y": {"datum": 668}}},
      {"data": {"name": "shutter"}, "transform": [{"filter": "datum.event == 'opening'"}], "mark": {"type": "rule", "color": "#222", "strokeWidth": 1.2}, "encoding": {"x": {"field": "t", "type": "quantitative"}, "y": {"datum": 0}, "y2": {"datum": 521}}},
      {"data": {"name": "shutter"}, "transform": [{"filter": "datum.event == 'closing'"}], "mark": {"type": "rule", "color": "#222", "strokeWidth": 1.4, "strokeDash": [2, 2.5]}, "encoding": {"x": {"field": "t", "type": "quantitative"}, "y": {"datum": 0}, "y2": {"datum": 521}}},
      {"data": {"name": "one"}, "mark": {"type": "point", "shape": "triangle-down", "size": 24}, "encoding": {"x": {"datum": 165}, "y": {"datum": 4}}},
      {"data": {"name": "one"}, "mark": {"type": "point", "shape": "triangle-up", "size": 24}, "encoding": {"x": {"datum": 195}, "y": {"datum": 521}}},
      {"data": {"name": "one"}, "mark": {"type": "text", "text": "Partial Pressure / Arb. Unit", "fontSize": 21, "fontWeight": "bold", "angle": 270, "align": "center", "baseline": "middle"}, "encoding": {"x": {"datum": 131.1}, "y": {"datum": 295}}},
      {"data": {"name": "one"}, "mark": {"type": "text", "text": "NO +CO / Pd(111) - Steady State Kinetics", "fontSize": 25, "fontWeight": "bold", "align": "left", "baseline": "alphabetic"}, "encoding": {"x": {"datum": 166.4}, "y": {"datum": 636}}},
      {"data": {"name": "one"}, "mark": {"type": "text", "text": "15", "fontSize": 14, "fontWeight": "bold", "align": "right", "baseline": "alphabetic", "dx": -1}, "encoding": {"x": {"datum": 166.4}, "y": {"datum": 646}}},
      {"data": {"name": "one"}, "mark": {"type": "text", "text": "(a)", "fontSize": 19, "align": "left", "baseline": "alphabetic", "dx": 1}, "encoding": {"x": {"datum": 140}, "y": {"datum": 529}}},
      {"data": {"name": "one"}, "mark": {"type": "text", "text": "15", "fontSize": 11, "fontWeight": "bold", "align": "left", "baseline": "alphabetic", "dx": 24}, "encoding": {"x": {"datum": 140}, "y": {"datum": 540}}},
      {"data": {"name": "one"}, "mark": {"type": "text", "text": "N", "fontSize": 19, "fontWeight": "bold", "align": "left", "baseline": "alphabetic", "dx": 35}, "encoding": {"x": {"datum": 140}, "y": {"datum": 529}}},
      {"data": {"name": "one"}, "mark": {"type": "text", "text": "2", "fontSize": 11, "fontWeight": "bold", "align": "left", "baseline": "alphabetic", "dx": 49}, "encoding": {"x": {"datum": 140}, "y": {"datum": 524}}}
    ]
  },
  {
    "layer": [
      {"data": {"name": "b1"}, "mark": {"type": "line", "strokeWidth": 1.1}, "encoding": {
        "x": {"field": "t", "type": "quantitative", "scale": {"domain": [140, 220], "range": [244, 432], "nice": false, "zero": false},
              "axis": {"orient": "bottom", "offset": -64, "values": [140,145,150,155,160,165,170,175,180,185,190,195,200,205,210,215,220], "labelExpr": "datum.value % 20 == 10 ? datum.label : ''", "tickSize": {"condition": {"test": "datum.value % 20 == 10", "value": 8}, "value": 4}, "title": "Time / Sec"}},
        "y": {"field": "v", "type": "quantitative", "scale": {"domain": [0, 668], "range": [683, 15], "nice": false, "zero": false}, "axis": null}}},
      {"data": {"name": "b2"}, "mark": {"type": "line", "strokeWidth": 2.2}, "encoding": {"x": {"field": "t", "type": "quantitative"}, "y": {"field": "v", "type": "quantitative", "axis": null}}},
      {"data": {"name": "b3"}, "mark": {"type": "line", "strokeWidth": 1.1}, "encoding": {"x": {"field": "t", "type": "quantitative"}, "y": {"field": "v", "type": "quantitative", "axis": null}}},
      {"data": {"name": "b4"}, "mark": {"type": "line", "strokeWidth": 2.2}, "encoding": {"x": {"field": "t", "type": "quantitative"}, "y": {"field": "v", "type": "quantitative", "axis": null}}},
      {"data": {"name": "b5"}, "mark": {"type": "line", "strokeWidth": 1.1}, "encoding": {"x": {"field": "t", "type": "quantitative"}, "y": {"field": "v", "type": "quantitative", "axis": null}}},
      {"data": {"name": "b6"}, "mark": {"type": "line", "strokeWidth": 2.2}, "encoding": {"x": {"field": "t", "type": "quantitative"}, "y": {"field": "v", "type": "quantitative", "axis": null}}},
      {"data": {"name": "one"}, "mark": "rule", "encoding": {"x": {"datum": 140}, "y": {"datum": 0}, "y2": {"datum": 583}}},
      {"data": {"name": "one"}, "mark": "rule", "encoding": {"x": {"datum": 140}, "y": {"datum": 662}, "y2": {"datum": 668}}},
      {"data": {"name": "one"}, "mark": "rule", "encoding": {"x": {"datum": 220}, "y": {"datum": 0}, "y2": {"datum": 583}}},
      {"data": {"name": "one"}, "mark": "rule", "encoding": {"x": {"datum": 220}, "y": {"datum": 662}, "y2": {"datum": 668}}},
      {"data": {"name": "one"}, "mark": "rule", "encoding": {"x": {"datum": 140}, "x2": {"datum": 220}, "y": {"datum": 668}}},
      {"data": {"name": "shutter"}, "transform": [{"filter": "datum.event == 'opening'"}], "mark": {"type": "rule", "color": "#222", "strokeWidth": 1.2}, "encoding": {"x": {"field": "t", "type": "quantitative"}, "y": {"datum": 0}, "y2": {"datum": 521}}},
      {"data": {"name": "shutter"}, "transform": [{"filter": "datum.event == 'closing'"}], "mark": {"type": "rule", "color": "#222", "strokeWidth": 1.4, "strokeDash": [2, 2.5]}, "encoding": {"x": {"field": "t", "type": "quantitative"}, "y": {"datum": 0}, "y2": {"datum": 521}}},
      {"data": {"name": "one"}, "mark": {"type": "point", "shape": "triangle-down", "size": 24}, "encoding": {"x": {"datum": 165}, "y": {"datum": 4}}},
      {"data": {"name": "one"}, "mark": {"type": "point", "shape": "triangle-up", "size": 24}, "encoding": {"x": {"datum": 195}, "y": {"datum": 521}}},
      {"data": {"name": "one"}, "mark": {"type": "text", "text": "NO:CO Composition Dependence at 475 K", "fontSize": 25.5, "align": "center", "baseline": "alphabetic"}, "encoding": {"x": {"datum": 185.1}, "y": {"datum": 608}}},
      {"data": {"name": "one"}, "mark": {"type": "text", "text": "(b)", "fontSize": 19, "align": "left", "baseline": "alphabetic", "dx": 10}, "encoding": {"x": {"datum": 140}, "y": {"datum": 529}}},
      {"data": {"name": "one"}, "mark": {"type": "text", "text": "15", "fontSize": 11, "fontWeight": "bold", "align": "left", "baseline": "alphabetic", "dx": 36}, "encoding": {"x": {"datum": 140}, "y": {"datum": 540}}},
      {"data": {"name": "one"}, "mark": {"type": "text", "text": "N", "fontSize": 19, "fontWeight": "bold", "align": "left", "baseline": "alphabetic", "dx": 47}, "encoding": {"x": {"datum": 140}, "y": {"datum": 529}}},
      {"data": {"name": "one"}, "mark": {"type": "text", "text": "2", "fontSize": 11, "fontWeight": "bold", "align": "left", "baseline": "alphabetic", "dx": 61}, "encoding": {"x": {"datum": 140}, "y": {"datum": 524}}},
      {"data": {"name": "one"}, "mark": {"type": "text", "text": "O", "fontSize": 19, "fontWeight": "bold", "align": "left", "baseline": "alphabetic", "dx": 67}, "encoding": {"x": {"datum": 140}, "y": {"datum": 529}}}
    ]
  },
  {
    "layer": [
      {"data": {"name": "c1"}, "mark": {"type": "line", "strokeWidth": 1.1}, "encoding": {
        "x": {"field": "t", "type": "quantitative", "scale": {"domain": [140, 220], "range": [437, 625], "nice": false, "zero": false},
              "axis": {"orient": "bottom", "offset": -64, "values": [140,145,150,155,160,165,170,175,180,185,190,195,200,205,210,215,220], "labelExpr": "datum.value % 20 == 10 ? datum.label : ''", "tickSize": {"condition": {"test": "datum.value % 20 == 10", "value": 8}, "value": 4}, "title": null}},
        "y": {"field": "v", "type": "quantitative", "scale": {"domain": [0, 668], "range": [683, 15], "nice": false, "zero": false}, "axis": null}}},
      {"data": {"name": "c2"}, "mark": {"type": "line", "strokeWidth": 2.2}, "encoding": {"x": {"field": "t", "type": "quantitative"}, "y": {"field": "v", "type": "quantitative", "axis": null}}},
      {"data": {"name": "c3"}, "mark": {"type": "line", "strokeWidth": 1.1}, "encoding": {"x": {"field": "t", "type": "quantitative"}, "y": {"field": "v", "type": "quantitative", "axis": null}}},
      {"data": {"name": "c4"}, "mark": {"type": "line", "strokeWidth": 2.2}, "encoding": {"x": {"field": "t", "type": "quantitative"}, "y": {"field": "v", "type": "quantitative", "axis": null}}},
      {"data": {"name": "c5"}, "mark": {"type": "line", "strokeWidth": 1.1}, "encoding": {"x": {"field": "t", "type": "quantitative"}, "y": {"field": "v", "type": "quantitative", "axis": null}}},
      {"data": {"name": "c6"}, "mark": {"type": "line", "strokeWidth": 2.2}, "encoding": {"x": {"field": "t", "type": "quantitative"}, "y": {"field": "v", "type": "quantitative", "axis": null}}},
      {"data": {"name": "one"}, "mark": "rule", "encoding": {"x": {"datum": 140}, "y": {"datum": 0}, "y2": {"datum": 583}}},
      {"data": {"name": "one"}, "mark": "rule", "encoding": {"x": {"datum": 140}, "y": {"datum": 662}, "y2": {"datum": 668}}},
      {"data": {"name": "one"}, "mark": "rule", "encoding": {"x": {"datum": 220}, "y": {"datum": 0}, "y2": {"datum": 668}}},
      {"data": {"name": "one"}, "mark": "rule", "encoding": {"x": {"datum": 140}, "x2": {"datum": 220}, "y": {"datum": 668}}},
      {"data": {"name": "shutter"}, "transform": [{"filter": "datum.event == 'opening'"}], "mark": {"type": "rule", "color": "#222", "strokeWidth": 1.2}, "encoding": {"x": {"field": "t", "type": "quantitative"}, "y": {"datum": 0}, "y2": {"datum": 521}}},
      {"data": {"name": "shutter"}, "transform": [{"filter": "datum.event == 'closing'"}], "mark": {"type": "rule", "color": "#222", "strokeWidth": 1.4, "strokeDash": [2, 2.5]}, "encoding": {"x": {"field": "t", "type": "quantitative"}, "y": {"datum": 0}, "y2": {"datum": 521}}},
      {"data": {"name": "one"}, "mark": {"type": "point", "shape": "triangle-down", "size": 24}, "encoding": {"x": {"datum": 165}, "y": {"datum": 4}}},
      {"data": {"name": "one"}, "mark": {"type": "point", "shape": "triangle-up", "size": 24}, "encoding": {"x": {"datum": 195}, "y": {"datum": 521}}},
      {"data": {"name": "one"}, "mark": {"type": "text", "text": "NO:CO = 2:1", "fontSize": 19, "align": "left", "baseline": "alphabetic"}, "encoding": {"x": {"datum": 162.6}, "y": {"datum": 569}}},
      {"data": {"name": "one"}, "mark": {"type": "text", "text": "15", "fontSize": 12, "align": "right", "baseline": "alphabetic", "dx": -1}, "encoding": {"x": {"datum": 162.6}, "y": {"datum": 578}}},
      {"data": {"name": "one"}, "mark": {"type": "text", "text": "(c)", "fontSize": 19, "align": "left", "baseline": "alphabetic", "dx": 4}, "encoding": {"x": {"datum": 140}, "y": {"datum": 529}}},
      {"data": {"name": "one"}, "mark": {"type": "text", "text": "CO", "fontSize": 19, "fontWeight": "bold", "align": "left", "baseline": "alphabetic", "dx": 35}, "encoding": {"x": {"datum": 140}, "y": {"datum": 529}}},
      {"data": {"name": "one"}, "mark": {"type": "text", "text": "2", "fontSize": 11, "fontWeight": "bold", "align": "left", "baseline": "alphabetic", "dx": 64}, "encoding": {"x": {"datum": 140}, "y": {"datum": 524}}},
      {"data": {"name": "one"}, "mark": {"type": "text", "text": "1:1", "fontSize": 17.5, "fontWeight": "bold", "align": "right", "baseline": "alphabetic"}, "encoding": {"x": {"datum": 215.7}, "y": {"datum": 440}}},
      {"data": {"name": "one"}, "mark": {"type": "text", "text": "1:2", "fontSize": 17.5, "align": "right", "baseline": "alphabetic"}, "encoding": {"x": {"datum": 215.7}, "y": {"datum": 350}}},
      {"data": {"name": "one"}, "mark": {"type": "text", "text": "1:4", "fontSize": 17.5, "align": "right", "baseline": "alphabetic"}, "encoding": {"x": {"datum": 215.7}, "y": {"datum": 259}}},
      {"data": {"name": "one"}, "mark": {"type": "text", "text": "1:8", "fontSize": 17.5, "align": "right", "baseline": "alphabetic"}, "encoding": {"x": {"datum": 213.2}, "y": {"datum": 156}}},
      {"data": {"name": "one"}, "mark": {"type": "text", "text": "1:15", "fontSize": 17.5, "fontWeight": "bold", "align": "right", "baseline": "alphabetic"}, "encoding": {"x": {"datum": 215.7}, "y": {"datum": 79}}}
    ]
  }
  ]
},
{
  "width": 331, "height": 747,
  "encoding": {
    "x": {"datum": 0, "type": "quantitative", "scale": {"domain": [0, 1], "range": [18, 321], "nice": false, "zero": false}, "axis": null},
    "y": {"field": "line", "type": "quantitative", "scale": {"domain": [1, 10], "range": [245, 551], "nice": false, "zero": false}, "axis": null}
  },
  "layer": [
    {"data": {"values": [{"line": 1, "text": "Figure\u00a0\u00a0\u00a0\u00a0\u00a0\u00a0\u00a04.7."}]},
     "mark": {"type": "text", "font": "Liberation Serif", "fontSize": 30, "fontWeight": "bold", "align": "left", "baseline": "alphabetic"},
     "encoding": {"text": {"field": "text"}}},
    {"data": {"values": [{"line": 1, "text": "Time"}]},
     "mark": {"type": "text", "font": "Liberation Serif", "fontSize": 30, "align": "right", "baseline": "alphabetic"},
     "encoding": {"text": {"field": "text"}, "x": {"datum": 1}}},
    {"data": {"values": [
       {"line": 2, "text": "evolution\u00a0of\u00a0the\u00a0products"},
       {"line": 3, "text": "(a)\u00a0N\u2082,\u00a0\u00a0(b)\u00a0N\u2082O,\u00a0\u00a0and\u00a0(c)"},
       {"line": 4, "text": "CO\u2082\u00a0\u00a0for\u00a0\u00a0\u00a0NO:CO\u00a0\u00a0beam"},
       {"line": 5, "text": "composition\u00a0\u00a0\u00a0\u00a0dependent"},
       {"line": 6, "text": "steady-state\u00a0\u00a0\u00a0kinetics\u00a0\u00a0\u00a0at"},
       {"line": 7, "text": "475\u00a0\u00a0K.\u00a0Dotted\u00a0\u00a0and\u00a0solid"},
       {"line": 8, "text": "arrows\u00a0\u00a0\u00a0\u00a0\u00a0\u00a0indicate\u00a0\u00a0\u00a0\u00a0\u00a0\u00a0the"},
       {"line": 9, "text": "closing\u00a0\u00a0and\u00a0\u00a0\u00a0opening\u00a0\u00a0of"},
       {"line": 10, "text": "the shutter."}
     ]},
     "mark": {"type": "text", "font": "Liberation Serif", "fontSize": 30, "align": "left", "baseline": "alphabetic"},
     "encoding": {"text": {"field": "text"}}}
  ]
}
]
}
